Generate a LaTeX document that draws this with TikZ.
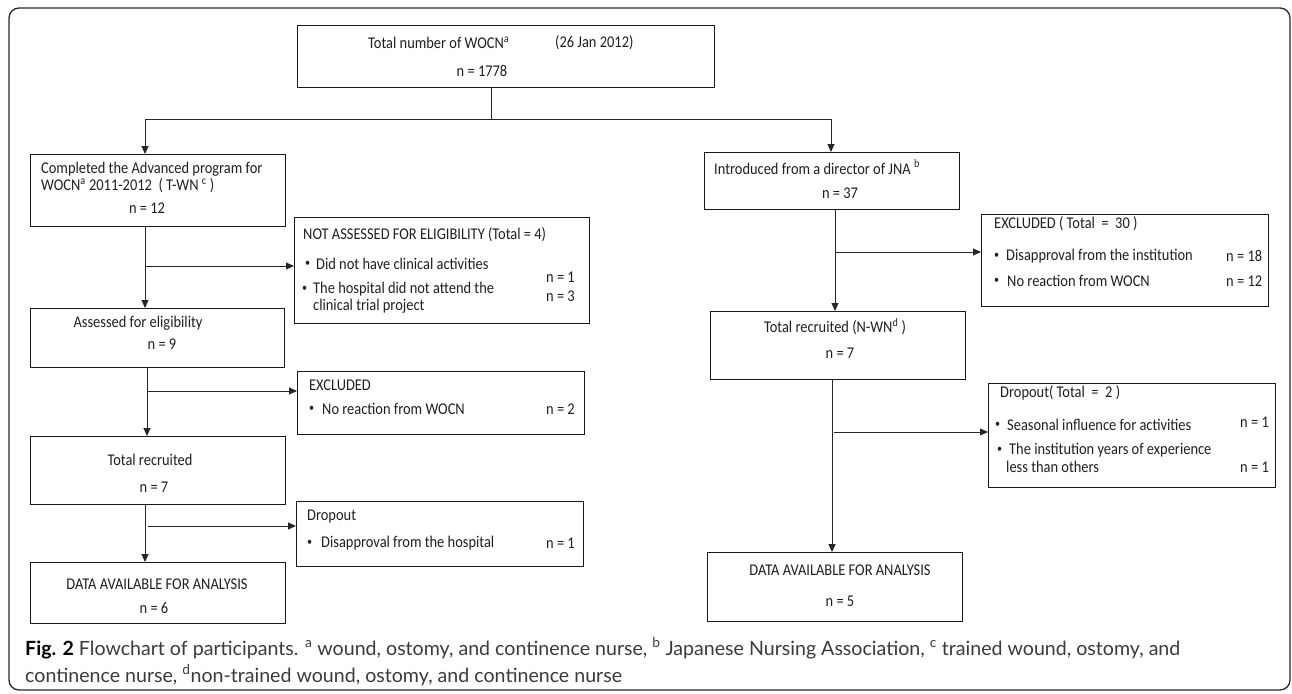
\documentclass[tikz,border=0pt]{standalone}
\usepackage{fontspec}
\setmainfont{Carlito}[FakeStretch=0.88]
\newfontfamily\capfont{Lato}
\usetikzlibrary{arrows.meta}
\definecolor{framec}{HTML}{2A2A2A}
\definecolor{capc}{HTML}{3A3A3A}
\newcommand\bul{\raisebox{0.15ex}{\scalebox{0.7}{\textbullet}}}
\begin{document}
\begin{tikzpicture}[x=1pt,y=-1pt,
  box/.style={draw=black!90, line width=1.2pt, inner sep=0pt, anchor=north west},
  txt/.style={inner sep=0pt, anchor=west, font=\fontsize{16.4}{18}\selectfont, text=black!88},
  ctxt/.style={inner sep=0pt, anchor=center, font=\fontsize{16.4}{18}\selectfont, text=black!88},
  conn/.style={line width=0.9pt, draw=black!85},
  arr/.style={conn, -{Triangle[length=8pt,width=7pt]}},
  captxt/.style={inner sep=0pt, anchor=west, font=\capfont\fontsize{19.6}{22}\selectfont, text=capc}
]
\useasboundingbox (0,0) rectangle (1292,693);
\draw[framec, line width=1.3pt, rounded corners=10pt] (9,8) rectangle (1290,690);

% boxes
\node[box, minimum width=417pt, minimum height=62pt] (T) at (297,25) {};
\node[box, minimum width=255pt, minimum height=72pt] (L1) at (30,154) {};
\node[box, minimum width=295pt, minimum height=106pt] (NA) at (294,217) {};
\node[box, minimum width=254pt, minimum height=59pt] (L2) at (30,308) {};
\node[box, minimum width=287pt, minimum height=63pt] (EXa) at (297,371) {};
\node[box, minimum width=255pt, minimum height=68pt] (L3) at (30,436) {};
\node[box, minimum width=287pt, minimum height=65pt] (DOa) at (296,501) {};
\node[box, minimum width=255pt, minimum height=61pt] (L4) at (30,562) {};
\node[box, minimum width=255pt, minimum height=57pt] (R1) at (704,152) {};
\node[box, minimum width=287pt, minimum height=92pt] (EXb) at (981,214) {};
\node[box, minimum width=255pt, minimum height=68pt] (R2) at (710,311) {};
\node[box, minimum width=287pt, minimum height=104pt] (DOb) at (988,383) {};
\node[box, minimum width=255pt, minimum height=69pt] (R3) at (707,552) {};

% texts: top
\node[txt] (t1) at (368,43) {Total number of WOCN\textsuperscript{a}};
\node[txt] (t2) at (555,43) {(26 Jan 2012)};
\node[ctxt] (t3) at (482,71) {n = 1778};
% L1
\node[txt] (l1a) at (41,169) {Completed the Advanced program for};
\node[txt] (l1b) at (41,186) {WOCN\textsuperscript{a} 2011-2012~~( T-WN \textsuperscript{c} )};
\node[ctxt] (l1c) at (147,208) {n = 12};
% NA
\node[txt] (na1) at (303,235) {NOT ASSESSED FOR ELIGIBILITY (Total = 4)};
\node[txt] (na2) at (305,264) {\bul};
\node[txt] (na3) at (316,264) {Did not have clinical activities};
\node[txt] (na4) at (546,277) {n = 1};
\node[txt] (na5) at (302,289) {\bul};
\node[txt] (na6) at (313,289) {The hospital did not attend the};
\node[txt] (na7) at (313,306) {clinical trial project};
\node[txt] (na8) at (546,296) {n = 3};
% L2
\node[ctxt] (l2a) at (138,323) {Assessed for eligibility};
\node[ctxt] (l2b) at (162,344) {n = 9};
% EXa
\node[txt] (ea1) at (309,385) {EXCLUDED};
\node[txt] (ea2) at (309,409) {\bul};
\node[txt] (ea3) at (322,409) {No reaction from WOCN};
\node[txt] (ea4) at (546,409) {n = 2};
% L3
\node[ctxt] (l3a) at (150,460) {Total recruited};
\node[ctxt] (l3b) at (154,487) {n = 7};
% DOa
\node[txt] (da1) at (307,517) {Dropout};
\node[txt] (da2) at (307,543) {\bul};
\node[txt] (da3) at (321,543) {Disapproval from the hospital};
\node[txt] (da4) at (546,543) {n = 1};
% L4
\node[ctxt] (l4a) at (157,584) {DATA AVAILABLE FOR ANALYSIS};
\node[ctxt] (l4b) at (154,608) {n = 6};
% R1
\node[txt] (r1a) at (714,167) {Introduced from a director of JNA \textsuperscript{b}};
\node[ctxt] (r1b) at (840,193) {n = 37};
% EXb
\node[txt] (eb1) at (994,224) {EXCLUDED ( Total~ =~ 30 )};
\node[txt] (eb2) at (994,256) {\bul};
\node[txt] (eb3) at (1006,256) {Disapproval from the institution};
\node[txt] (eb4) at (1226,256) {n = 18};
\node[txt] (eb5) at (994,281) {\bul};
\node[txt] (eb6) at (1007,281) {No reaction from WOCN};
\node[txt] (eb7) at (1226,281) {n = 12};
% R2
\node[ctxt] (r2a) at (835,327) {Total recruited (N-WN\textsuperscript{d} )};
\node[ctxt] (r2b) at (840,353) {n = 7};
% DOb
\node[txt] (db1) at (1000,393) {Dropout( Total~ =~ 2 )};
\node[txt] (db2) at (995,425) {\bul};
\node[txt] (db3) at (1007,425) {Seasonal influence for activities};
\node[txt] (db4) at (1240,422) {n = 1};
\node[txt] (db5) at (997,450) {\bul};
\node[txt] (db6) at (1009,450) {The institution years of experience};
\node[txt] (db7) at (1006,467) {less than others};
\node[txt] (db8) at (1240,467) {n = 1};
% R3
\node[ctxt] (r3a) at (840,570) {DATA AVAILABLE FOR ANALYSIS};
\node[ctxt] (r3b) at (840,601) {n = 5};

% connectors
\coordinate (J) at (491,119);
\coordinate (JL) at (145,119);
\coordinate (JR) at (831,119);
\draw[conn] (T.south -| J) -- (J);
\draw[conn] (JL) -- (JR);
\draw[arr] (JL) -- (L1.north -| JL);
\draw[arr] (JR) -- (R1.north -| JR);

\coordinate (V1) at (145,0);
\draw[arr] (L1.south -| V1) -- (L2.north -| V1);
\coordinate (B1) at (146,266);
\draw[arr] (B1) -- (NA.west |- B1);

\coordinate (V2) at (147,0);
\draw[arr] (L2.south -| V2) -- (L3.north -| V2);
\coordinate (B2) at (148,391);
\draw[arr] (B2) -- (EXa.west |- B2);

\coordinate (V3) at (145,0);
\draw[arr] (L3.south -| V3) -- (L4.north -| V3);
\coordinate (B3) at (148,526);
\draw[arr] (B3) -- (DOa.west |- B3);

\coordinate (V4) at (835,0);
\draw[arr] (R1.south -| V4) -- (R2.north -| V4);
\coordinate (B4) at (835,252);
\draw[arr] (B4) -- (EXb.west |- B4);

\coordinate (V5) at (832,0);
\draw[arr] (R2.south -| V5) -- (R3.north -| V5);
\coordinate (B5) at (834,432);
\draw[arr] (B5) -- (DOb.west |- B5);

% caption
\node[captxt] (cap1) at (25,648)
  {\textbf{\color{black}Fig. 2} Flowchart of participants. \textsuperscript{a} wound, ostomy, and continence nurse, \textsuperscript{b} Japanese Nursing Association, \textsuperscript{c} trained wound, ostomy, and};
\node[captxt] (cap2) at (25,675)
  {continence nurse, \textsuperscript{d}non-trained wound, ostomy, and continence nurse};
\end{tikzpicture}
\end{document}
